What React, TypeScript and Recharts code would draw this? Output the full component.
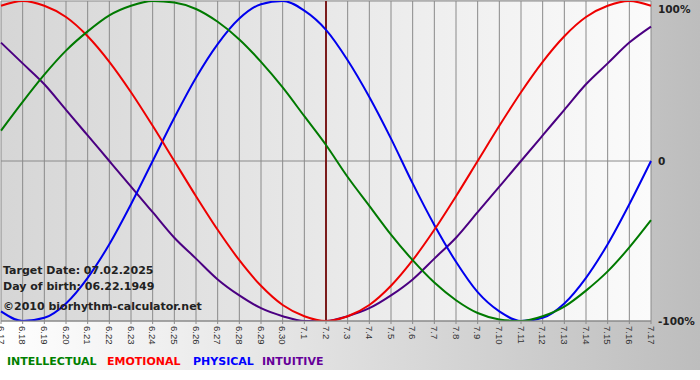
import React from 'react';
import { LineChart, Line, XAxis, YAxis, CartesianGrid, ReferenceLine } from 'recharts';

const dates = ['6.17','6.18','6.19','6.20','6.21','6.22','6.23','6.24','6.25','6.26','6.27','6.28','6.29','6.30','7.1','7.2','7.3','7.4','7.5','7.6','7.7','7.8','7.9','7.10','7.11','7.12','7.13','7.14','7.15','7.16','7.17'];

const physical = [-0.94,-1.00,-0.98,-0.89,-0.73,-0.52,-0.27,0,0.27,0.52,0.73,0.89,0.98,1.00,0.94,0.82,0.63,0.40,0.14,-0.14,-0.40,-0.63,-0.82,-0.94,-1.00,-0.98,-0.89,-0.73,-0.52,-0.27,0];
const emotional = [0.97,1.00,0.97,0.90,0.78,0.62,0.43,0.22,0,-0.22,-0.43,-0.62,-0.78,-0.90,-0.97,-1.00,-0.97,-0.90,-0.78,-0.62,-0.43,-0.22,0,0.22,0.43,0.62,0.78,0.90,0.97,1.00,0.97];
const intellectual = [0.19,0.37,0.54,0.69,0.81,0.91,0.97,1.00,0.99,0.95,0.87,0.76,0.62,0.46,0.28,0.10,-0.10,-0.28,-0.46,-0.62,-0.76,-0.87,-0.95,-0.99,-1.00,-0.97,-0.91,-0.81,-0.69,-0.54,-0.37];
const intuitive = [0.74,0.61,0.48,0.32,0.16,0,-0.16,-0.32,-0.48,-0.61,-0.74,-0.84,-0.92,-0.97,-1.00,-1.00,-0.97,-0.92,-0.84,-0.74,-0.61,-0.48,-0.32,-0.16,0,0.16,0.32,0.48,0.61,0.74,0.84];

const yTicks = [-100, 0, 100];
const yTickLabels: Record<string, string> = { '-100': '-100%', '0': '0', '100': '100%' };
const targetDate = '7.2';
const infoLines = ['Target Date: 07.02.2025', 'Day of birth: 06.22.1949', '\u00A92010 biorhythm-calculator.net'];
const legendItems = [
  { name: 'INTELLECTUAL', color: '#008000', left: 7 },
  { name: 'EMOTIONAL', color: '#ff0000', left: 107 },
  { name: 'PHYSICAL', color: '#0000ff', left: 193 },
  { name: 'INTUITIVE', color: '#660099', left: 262 },
];

const data = dates.map((d, i) => ({
  date: d,
  intellectual: intellectual[i] * 100,
  emotional: emotional[i] * 100,
  physical: physical[i] * 100,
  intuitive: intuitive[i] * 100,
}));

const XTick = (props: any) => {
  const { x, y, payload } = props;
  return (
    <text x={x} y={y} transform={`rotate(90, ${x}, ${y})`} textAnchor="start" dominantBaseline="central"
      fontFamily="'Liberation Sans', Arial, sans-serif" fontSize={9.5} fill="#333">
      {payload.value}
    </text>
  );
};

const YTick = (props: any) => {
  const { y, payload } = props;
  const yy = Math.max(y, 8);
  return (
    <text x={658} y={yy} textAnchor="start" dominantBaseline="central"
      fontFamily="'DejaVu Sans', Verdana, sans-serif" fontWeight="bold" fontSize={10.5} fill="#222">
      {yTickLabels[String(payload.value)]}
    </text>
  );
};

export default function App() {
  return (
    <div style={{ position: 'absolute', left: 0, top: 0, width: 700, height: 380, background: '#ffffff' }}>
      <div style={{ position: 'relative', width: 700, height: 370, background: 'linear-gradient(to right, #ffffff, #bdbdbd)' }}>
        <LineChart width={700} height={370} data={data} margin={{ top: 1, right: 0, bottom: 21, left: 1 }}>
          <defs>
            <linearGradient id="plotBg" x1="0" y1="0" x2="1" y2="0">
              <stop offset="0%" stopColor="#d6d6d6" />
              <stop offset="100%" stopColor="#fbfbfb" />
            </linearGradient>
          </defs>
          <CartesianGrid fill="url(#plotBg)" fillOpacity={1} stroke="#8a8a8a" strokeWidth={1} />
          <XAxis dataKey="date" interval={0} height={28} tickSize={3} tickMargin={2} stroke="#8a8a8a"
            tick={<XTick />} />
          <YAxis orientation="right" width={49} domain={[-100, 100]} ticks={yTicks} axisLine={false}
            tickLine={false} tick={<YTick />} allowDataOverflow />
          <ReferenceLine x={targetDate} stroke="#7b1c1c" strokeWidth={2} />
          <Line type="monotone" dataKey="intuitive" stroke="#4b0082" strokeWidth={2} dot={false} isAnimationActive={false} />
          <Line type="monotone" dataKey="physical" stroke="#0000ee" strokeWidth={2} dot={false} isAnimationActive={false} />
          <Line type="monotone" dataKey="emotional" stroke="#ee0000" strokeWidth={2} dot={false} isAnimationActive={false} />
          <Line type="monotone" dataKey="intellectual" stroke="#007a00" strokeWidth={2} dot={false} isAnimationActive={false} />
        </LineChart>
        <div style={{ position: 'absolute', left: 3, top: 263, fontFamily: "'DejaVu Sans', Verdana, sans-serif", fontWeight: 'bold', fontSize: 11, color: '#222', lineHeight: '16px' }}>
          <div>{infoLines[0]}</div>
          <div>{infoLines[1]}</div>
          <div style={{ marginTop: 4 }}>{infoLines[2]}</div>
        </div>
        {legendItems.map((it) => (
          <div key={it.name} style={{ position: 'absolute', left: it.left, top: 354, fontFamily: "'DejaVu Sans', Verdana, sans-serif", fontWeight: 'bold', fontSize: 11, lineHeight: '16px', whiteSpace: 'nowrap', color: it.color }}>
            {it.name}
          </div>
        ))}
      </div>
    </div>
  );
}
